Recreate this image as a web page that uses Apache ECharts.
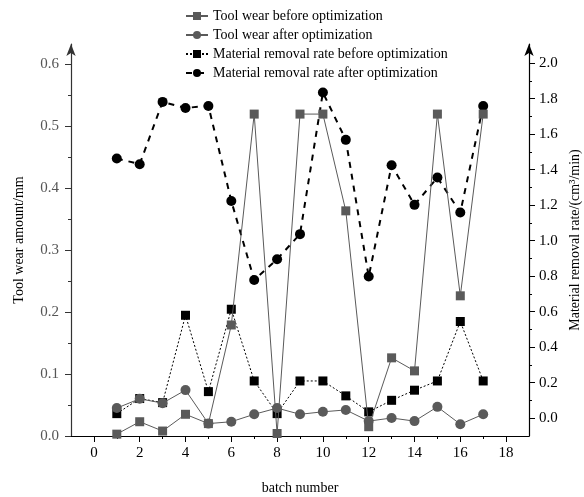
<!DOCTYPE html>
<html>
<head>
<meta charset="utf-8">
<script src="https://cdn.jsdelivr.net/npm/echarts@6/dist/echarts.min.js"></script>
<style>
  html, body { margin: 0; padding: 0; background: #fff; }
  #main { width: 584px; height: 497px; }
</style>
</head>
<body>
<div id="main"></div>
<script>
// batch numbers on the x axis
var batches = [1, 2, 3, 4, 5, 6, 7, 8, 9, 10, 11, 12, 13, 14, 15, 16, 17];
// tool wear (mm), left axis
var wearBefore = [0.003, 0.023, 0.008, 0.035, 0.020, 0.179, 0.519, 0.004, 0.519, 0.519, 0.363, 0.015, 0.126, 0.105, 0.519, 0.226, 0.519];
var wearAfter = [0.045, 0.060, 0.053, 0.074, 0.020, 0.023, 0.035, 0.045, 0.035, 0.039, 0.042, 0.024, 0.029, 0.024, 0.047, 0.019, 0.035];
// material removal rate (cm3/min), right axis
var mrrBefore = [0.026, 0.111, 0.088, 0.580, 0.150, 0.614, 0.210, 0.026, 0.210, 0.210, 0.126, 0.036, 0.101, 0.158, 0.210, 0.545, 0.210];
var mrrAfter = [1.463, 1.431, 1.782, 1.748, 1.759, 1.224, 0.779, 0.896, 1.037, 1.835, 1.568, 0.798, 1.425, 1.202, 1.356, 1.159, 1.759];
// tick labels
var xTicks = [0, 2, 4, 6, 8, 10, 12, 14, 16, 18];
var xMinor = [1, 3, 5, 7, 9, 11, 13, 15, 17];
var leftTicks = [0, 0.1, 0.2, 0.3, 0.4, 0.5, 0.6];
var leftMinor = [0.05, 0.15, 0.25, 0.35, 0.45, 0.55];
var rightTicks = [0, 0.2, 0.4, 0.6, 0.8, 1.0, 1.2, 1.4, 1.6, 1.8, 2.0];
var rightMinor = [0.1, 0.3, 0.5, 0.7, 0.9, 1.1, 1.3, 1.5, 1.7, 1.9];

var names = ['Tool wear before optimization', 'Tool wear after optimization',
  'Material removal rate before optimization', 'Material removal rate after optimization'];

function pairs(vals) {
  return batches.map(function (b, i) { return [b, vals[i]]; });
}

var font = 'Liberation Serif';
var chart = echarts.init(document.getElementById('main'));

var option = {
  animation: false,
  textStyle: { fontFamily: font },
  grid: { left: 71, right: 55, top: 44, bottom: 61, containLabel: false, outerBoundsMode: 'none' },
  legend: {
    orient: 'vertical',
    left: 180,
    top: 4,
    itemWidth: 22,
    itemHeight: 10,
    itemGap: 5,
    textStyle: { fontFamily: font, fontSize: 14, color: '#000', lineHeight: 14 },
    data: names
  },
  xAxis: [{
    type: 'value',
    min: -1,
    max: 19,
    name: 'batch number',
    nameLocation: 'middle',
    nameGap: 45,
    nameTextStyle: { fontFamily: font, fontSize: 14, color: '#000' },
    axisLine: { onZero: false, lineStyle: { color: '#000', width: 1.2 } },
    axisTick: { customValues: xTicks, length: 6, lineStyle: { color: '#000' } },
    axisLabel: { customValues: xTicks, margin: 10, fontFamily: font, fontSize: 15, color: '#000' },
    splitLine: { show: false }
  }, {
    type: 'value',
    min: -1,
    max: 19,
    position: 'bottom',
    axisLine: { show: false, onZero: false },
    axisTick: { show: true, customValues: xMinor, length: 3, lineStyle: { color: '#000' } },
    axisLabel: { show: false },
    splitLine: { show: false }
  }],
  yAxis: [{
    type: 'value',
    min: 0,
    max: 0.632,
    position: 'left',
    name: 'Tool wear amount/mm',
    nameLocation: 'middle',
    nameRotate: 90,
    nameGap: 45,
    nameTextStyle: { fontFamily: font, fontSize: 14, color: '#000' },
    axisLine: { show: true, onZero: false, symbol: ['none', 'arrow'], symbolSize: [7, 12], lineStyle: { color: '#333', width: 1.2 } },
    axisTick: { show: true, customValues: leftTicks, length: 6, lineStyle: { color: '#333' } },
    axisLabel: {
      customValues: leftTicks, margin: 12, fontFamily: font, fontSize: 15, color: '#555',
      formatter: function (v) { return v.toFixed(1); }
    },
    splitLine: { show: false }
  }, {
    type: 'value',
    min: -0.1,
    max: 2.108,
    position: 'right',
    name: 'Material removal rate/(cm\u00b3/min)',
    nameLocation: 'middle',
    nameRotate: 90,
    nameGap: 38,
    nameTextStyle: { fontFamily: font, fontSize: 14, color: '#000' },
    axisLine: { show: true, onZero: false, symbol: ['none', 'arrow'], symbolSize: [7, 12], lineStyle: { color: '#000', width: 1.2 } },
    axisTick: { show: true, customValues: rightTicks, length: 6, lineStyle: { color: '#000' } },
    axisLabel: {
      customValues: rightTicks, margin: 10, fontFamily: font, fontSize: 15, color: '#000',
      formatter: function (v) { return v.toFixed(1); }
    },
    splitLine: { show: false }
  }, {
    type: 'value',
    min: 0,
    max: 0.632,
    position: 'left',
    axisLine: { show: false, onZero: false },
    axisTick: { show: true, customValues: leftMinor, length: 3, lineStyle: { color: '#333' } },
    axisLabel: { show: false },
    splitLine: { show: false }
  }, {
    type: 'value',
    min: -0.1,
    max: 2.108,
    position: 'right',
    axisLine: { show: false, onZero: false },
    axisTick: { show: true, customValues: rightMinor, length: 3, lineStyle: { color: '#000' } },
    axisLabel: { show: false },
    splitLine: { show: false }
  }],
  series: [{
    name: names[0],
    type: 'line',
    yAxisIndex: 0,
    data: pairs(wearBefore),
    symbol: 'rect',
    symbolSize: 9,
    itemStyle: { color: '#5a5a5a' },
    lineStyle: { color: '#5a5a5a', width: 1 },
    z: 3
  }, {
    name: names[1],
    type: 'line',
    yAxisIndex: 0,
    data: pairs(wearAfter),
    symbol: 'circle',
    symbolSize: 10,
    itemStyle: { color: '#5a5a5a' },
    lineStyle: { color: '#5a5a5a', width: 1 },
    z: 3
  }, {
    name: names[2],
    type: 'line',
    yAxisIndex: 1,
    data: pairs(mrrBefore),
    symbol: 'rect',
    symbolSize: 9,
    itemStyle: { color: '#000' },
    lineStyle: { color: '#000', width: 1, type: [2, 2] },
    z: 2
  }, {
    name: names[3],
    type: 'line',
    yAxisIndex: 1,
    data: pairs(mrrAfter),
    symbol: 'circle',
    symbolSize: 10,
    itemStyle: { color: '#000' },
    lineStyle: { color: '#000', width: 2, type: [6, 6] },
    z: 2
  }]
};

chart.setOption(option);
</script>
</body>
</html>
